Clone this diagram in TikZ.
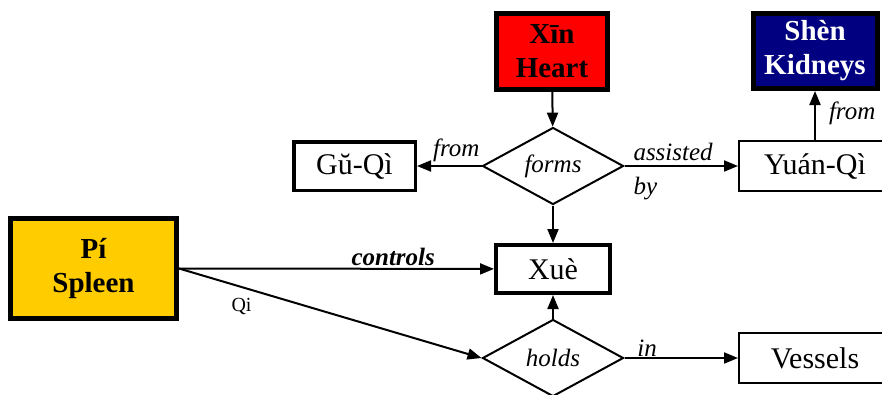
\documentclass[tikz,border=0pt]{standalone}
\usepackage{fontspec}
\setmainfont{Liberation Serif}
\usetikzlibrary{shapes.geometric, arrows.meta}
\definecolor{heartred}{RGB}{255,0,0}
\definecolor{kidneyblue}{RGB}{0,0,128}
\definecolor{spleenyellow}{RGB}{255,204,0}

\begin{document}
\begin{tikzpicture}[x=1pt, y=-1pt, >={Triangle[length=14pt, width=11pt]}, line width=2pt,
    organ/.style={draw, line width=5pt, align=center, inner sep=0pt, font=\fontsize{29}{34}\selectfont\bfseries},
    entity/.style={draw, inner sep=0pt, minimum width=152pt, minimum height=50pt, font=\fontsize{30}{32}\selectfont},
    relation/.style={draw, diamond, inner sep=0pt, aspect=1.83, minimum width=141pt, minimum height=77pt, font=\fontsize{25}{28}\selectfont\itshape},
    edgetext/.style={inner sep=1pt, font=\fontsize{25}{28}\selectfont\itshape}]

    \useasboundingbox (0,0) rectangle (882,394);

    % Organs
    \node[organ, fill=heartred, minimum width=111pt, minimum height=76pt] at (552, 51.5) (xin) {Xīn\\Heart};
    \node[organ, fill=kidneyblue, text=white, minimum width=124pt, minimum height=75pt] at (815, 51) (shen) {Shèn\\Kidneys};
    \node[organ, fill=spleenyellow, minimum width=166pt, minimum height=100pt] at (93.5, 268.5) (pi) {Pí\\Spleen};

    % Relations
    \node[relation] at (553, 166) (forms) {forms};
    \node[relation] at (553, 358) (holds) {holds};

    % Qi and blood
    \node[entity, line width=3.5pt, minimum width=121.5pt, minimum height=48.5pt] at (354.5, 166) (guqi) {Gŭ-Qì};
    \node[entity] at (815, 166) (yuanqi) {Yuán-Qì};
    \node[entity, line width=4pt, minimum width=114pt, minimum height=48pt] at (553, 269) (xue) {Xuè};
    \node[entity] at (815, 358) (vessels) {Vessels};

    % Connections
    \draw[->] (xin) -- (forms);
    \draw[->] (forms) -- (guqi) node[edgetext, pos=0, anchor=south east, yshift=2pt] {from};
    \draw[->] (forms) -- (yuanqi)
        node[edgetext, pos=0, anchor=south west, xshift=7pt, yshift=3pt] {assisted}
        node[edgetext, pos=0, anchor=north west, xshift=7pt, yshift=-9pt] {by};
    \draw[->] (yuanqi) -- (shen) node[edgetext, midway, right, xshift=12pt, yshift=2pt] {from};
    \draw[->] (forms) -- (xue);
    \draw[->] (pi.east) -- (xue) node[edgetext, pos=0.68, above, yshift=1pt, font=\fontsize{25}{28}\selectfont\bfseries\itshape] {controls};
    \draw[->] (pi.east) -- (holds.west) node[pos=0.2, below, xshift=2pt, yshift=-8pt, font=\fontsize{20}{22}\selectfont] {Qi};
    \draw[->] (holds) -- (xue);
    \draw[->] (holds) -- (vessels) node[edgetext, pos=0.2, above] {in};

\end{tikzpicture}
\end{document}
